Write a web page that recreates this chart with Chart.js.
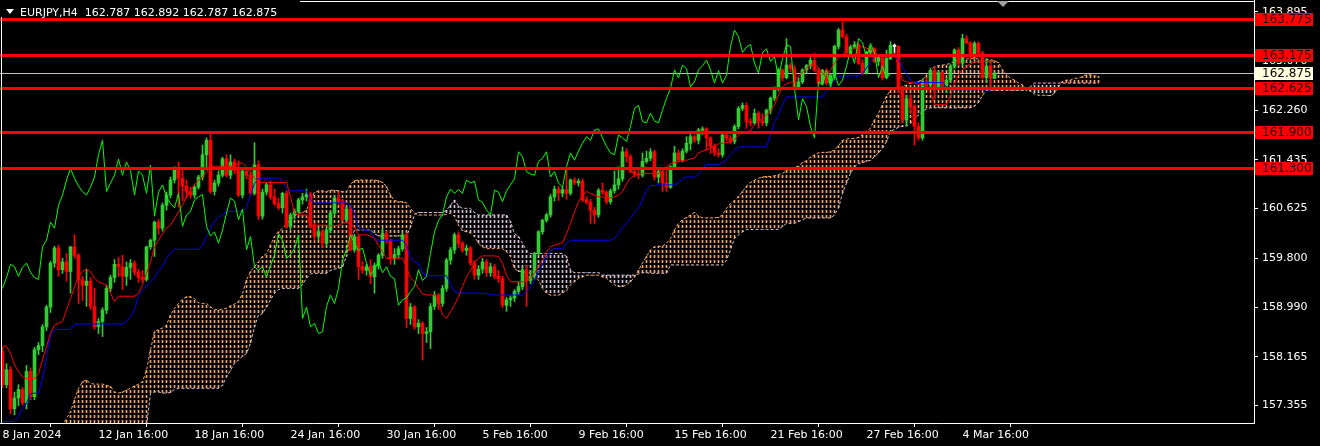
<!DOCTYPE html>
<html>
<head>
<meta charset="utf-8">
<title>EURJPY,H4</title>
<script src="https://cdn.jsdelivr.net/npm/chart.js@4.4.1/dist/chart.umd.min.js"></script>
<style>
  html, body { margin: 0; padding: 0; background: #000; }
  #chart { display: block; }
</style>
</head>
<body>
<canvas id="chart" width="1320" height="446"></canvas>
<script>
// EURJPY H4, one entry per bar from 8 Jan 2024 16:00
const symbol = "EURJPY,H4";
const lastQuote = ["162.787", "162.892", "162.787", "162.875"];

const tickBars = [0, 24, 48, 72, 96, 120, 144, 168, 192, 216, 240];
const tickLabels = ["8 Jan 2024", "12 Jan 16:00", "18 Jan 16:00", "24 Jan 16:00", "30 Jan 16:00",
  "5 Feb 16:00", "9 Feb 16:00", "15 Feb 16:00", "21 Feb 16:00", "27 Feb 16:00", "4 Mar 16:00"];

const priceTicks = [163.895, 163.070, 162.260, 161.435, 160.625, 159.800, 158.990, 158.165, 157.355];

const levels = [163.775, 163.175, 162.625, 161.900, 161.300];
const lastPrice = 162.875;

// [open, high, low, close]
const candles = [
  [158.25,158.32,157.65,157.70],[157.70,158.05,157.65,157.95],[157.95,158.00,157.22,157.30],[157.30,157.58,157.20,157.48],[157.48,157.70,157.35,157.62],
  [157.62,157.66,157.36,157.40],[157.40,158.02,157.30,157.92],[157.92,157.98,157.45,157.50],[157.50,158.32,157.45,158.28],[158.28,158.40,158.20,158.35],
  [158.35,158.70,158.25,158.66],[158.66,159.02,158.60,158.99],[158.99,159.75,158.90,159.72],[159.72,160.00,159.65,159.97],[159.97,160.02,159.50,159.61],
  [159.61,159.80,159.55,159.74],[159.74,159.88,159.42,159.58],[159.58,160.00,159.22,159.99],[159.99,160.19,159.80,159.85],[159.85,159.88,159.05,159.44],
  [159.44,159.50,159.10,159.35],[159.35,159.62,159.00,159.42],[159.42,159.48,158.95,159.00],[159.00,159.30,158.62,158.66],[158.66,158.80,158.55,158.75],
  [158.75,158.98,158.50,158.94],[158.94,159.35,158.88,159.30],[159.30,159.52,159.25,159.48],[159.48,159.78,159.40,159.70],[159.70,159.82,159.50,159.66],
  [159.66,159.85,159.28,159.50],[159.50,159.74,159.35,159.65],[159.65,159.78,159.45,159.72],[159.72,159.76,159.52,159.57],[159.57,159.62,159.40,159.48],
  [159.48,159.60,159.40,159.45],[159.45,160.00,159.42,159.99],[159.99,160.12,159.95,160.10],[160.10,160.42,159.83,160.40],[160.40,160.45,160.20,160.30],
  [160.30,160.72,160.25,160.68],[160.68,160.90,160.60,160.85],[160.85,161.15,160.80,161.10],[161.10,161.32,161.05,161.29],[161.29,161.40,160.65,161.13],
  [161.13,161.30,160.75,161.00],[161.00,161.10,160.80,160.91],[160.91,160.98,160.80,160.85],[160.85,161.02,160.80,160.98],[160.98,161.18,160.95,161.15],
  [161.15,161.68,161.10,161.52],[161.52,161.80,161.30,161.76],[161.76,161.88,160.88,160.91],[160.91,161.10,160.85,161.05],[161.05,161.25,161.00,161.18],
  [161.18,161.48,161.15,161.45],[161.45,161.52,161.15,161.18],[161.18,161.52,161.12,161.40],[161.40,161.45,161.20,161.26],[161.26,161.42,160.82,160.85],
  [160.85,161.30,160.80,161.25],[161.25,161.30,161.12,161.18],[161.18,161.25,160.85,160.88],[160.88,161.72,160.85,161.35],[161.35,161.42,160.44,160.50],
  [160.50,160.95,160.45,160.90],[160.90,161.05,160.85,161.02],[161.02,161.08,160.78,160.82],[160.82,160.95,160.68,160.71],[160.71,160.80,160.60,160.64],
  [160.64,160.90,160.55,160.88],[160.88,160.92,160.30,160.33],[160.33,160.55,160.28,160.52],[160.52,160.62,160.45,160.58],[160.58,160.80,160.55,160.77],
  [160.77,160.88,160.70,160.82],[160.82,160.95,160.75,160.86],[160.86,160.90,160.30,160.33],[160.33,160.38,160.10,160.17],[160.17,160.30,160.10,160.24],
  [160.24,160.28,159.98,160.05],[160.05,160.30,160.00,160.27],[160.27,160.58,160.22,160.55],[160.55,160.85,160.50,160.80],[160.80,160.90,160.70,160.75],
  [160.75,160.78,160.42,160.44],[160.44,160.66,160.40,160.62],[160.62,160.66,159.92,159.94],[159.94,160.20,159.90,160.16],[160.16,160.18,159.45,159.66],
  [159.66,159.75,159.55,159.60],[159.60,159.70,159.52,159.66],[159.66,159.78,159.38,159.49],[159.49,159.72,159.22,159.68],[159.68,159.88,159.62,159.85],
  [159.85,160.30,159.80,160.21],[160.21,160.25,160.05,160.10],[160.10,160.12,159.70,159.80],[159.80,159.96,159.70,159.86],[159.86,160.00,159.80,159.96],
  [159.96,160.22,159.92,160.19],[160.19,160.22,158.65,158.80],[158.80,159.05,158.70,158.99],[158.99,159.02,158.62,158.66],[158.66,158.78,158.55,158.72],
  [158.72,158.75,158.11,158.55],[158.55,158.65,158.40,158.58],[158.58,159.05,158.30,159.00],[159.00,159.25,158.95,159.19],[159.19,159.22,158.95,159.05],
  [159.05,159.35,159.00,159.30],[159.30,159.80,159.25,159.77],[159.77,159.98,159.70,159.94],[159.94,160.22,159.88,160.19],[160.19,160.24,159.98,160.05],
  [160.05,160.08,159.90,159.93],[159.93,160.02,159.85,159.97],[159.97,160.00,159.68,159.72],[159.72,159.76,159.45,159.52],[159.52,159.68,159.45,159.62],
  [159.62,159.80,159.55,159.74],[159.74,159.78,159.50,159.56],[159.56,159.72,159.50,159.66],[159.66,159.70,159.46,159.50],[159.50,159.60,159.40,159.46],
  [159.46,159.50,158.98,159.02],[159.02,159.15,158.92,159.11],[159.11,159.18,159.00,159.14],[159.14,159.28,159.08,159.25],[159.25,159.40,159.20,159.33],
  [159.33,159.65,159.28,159.61],[159.61,159.68,159.00,159.43],[159.43,159.60,159.38,159.50],[159.50,159.90,159.45,159.88],[159.88,160.26,159.85,160.24],
  [160.24,160.45,160.20,160.43],[160.43,160.55,160.40,160.52],[160.52,160.86,160.48,160.82],[160.82,161.00,160.75,160.95],[160.95,161.00,160.76,160.88],
  [160.88,160.98,160.82,160.94],[160.94,161.28,160.78,160.88],[160.88,161.12,160.85,161.10],[161.10,161.14,161.02,161.05],[161.05,161.12,161.00,161.08],
  [161.08,161.12,160.74,160.77],[160.77,160.82,160.70,160.73],[160.73,160.78,160.38,160.60],[160.60,160.65,160.38,160.52],[160.52,160.96,160.48,160.93],
  [160.93,161.05,160.86,160.90],[160.90,160.92,160.70,160.74],[160.74,160.95,160.70,160.92],[160.92,161.25,160.88,161.02],[161.02,161.32,160.95,161.12],
  [161.12,161.65,161.08,161.57],[161.57,161.62,161.40,161.49],[161.49,161.52,161.22,161.24],[161.24,161.30,161.15,161.20],[161.20,161.28,161.12,161.18],
  [161.18,161.55,161.15,161.41],[161.41,161.58,161.38,161.46],[161.46,161.62,161.42,161.57],[161.57,161.60,161.10,161.15],[161.15,161.30,161.05,161.24],
  [161.24,161.28,160.91,161.05],[161.05,161.27,160.91,160.98],[160.98,161.34,160.96,161.32],[161.32,161.66,161.28,161.55],[161.55,161.60,161.40,161.43],
  [161.43,161.62,161.40,161.58],[161.58,161.82,161.55,161.71],[161.71,161.87,161.60,161.82],[161.82,161.85,161.72,161.76],[161.76,161.96,161.70,161.93],
  [161.93,161.98,161.85,161.95],[161.95,161.97,161.60,161.80],[161.80,161.82,161.54,161.66],[161.66,161.70,161.50,161.55],[161.55,161.62,161.48,161.52],
  [161.52,161.90,161.48,161.85],[161.85,161.88,161.75,161.80],[161.80,161.84,161.70,161.74],[161.74,162.02,161.70,161.99],[161.99,162.32,161.95,162.29],
  [162.29,162.38,162.25,162.34],[162.34,162.38,161.96,162.07],[162.07,162.12,162.00,162.05],[162.05,162.28,162.02,162.21],[162.21,162.24,161.96,162.08],
  [162.08,162.20,162.00,162.05],[162.05,162.28,162.00,162.26],[162.26,162.48,162.20,162.46],[162.46,162.65,162.42,162.62],[162.62,162.96,162.58,162.93],
  [162.93,162.95,162.75,162.80],[162.80,163.45,162.78,163.01],[163.01,163.05,162.90,162.95],[162.95,163.00,162.62,162.65],[162.65,162.80,162.60,162.73],
  [162.73,162.95,162.70,162.93],[162.93,163.02,162.88,163.00],[163.00,163.18,162.95,163.09],[163.09,163.21,162.90,162.93],[162.93,162.96,162.68,162.71],
  [162.71,162.94,162.68,162.92],[162.92,162.95,162.68,162.71],[162.71,162.86,162.62,162.84],[162.84,163.34,162.76,163.32],[163.32,163.62,163.28,163.59],
  [163.59,163.73,163.46,163.48],[163.48,163.52,163.20,163.22],[163.22,163.34,163.18,163.31],[163.31,163.40,163.28,163.35],[163.35,163.38,163.02,163.04],
  [163.04,163.10,162.85,162.88],[162.88,163.24,162.86,163.22],[163.22,163.32,163.18,163.28],[163.28,163.30,163.05,163.07],[163.07,163.18,163.00,163.15],
  [163.15,163.16,162.76,162.80],[162.80,163.26,162.78,163.12],[163.12,163.40,163.10,163.34],[163.32,163.36,163.21,163.32],[163.32,163.33,162.55,162.62],
  [162.62,162.66,162.05,162.10],[162.10,162.50,162.00,162.45],[162.45,162.52,162.20,162.32],[162.32,162.35,161.68,161.99],[161.99,162.05,161.76,161.80],
  [161.80,162.78,161.76,162.73],[162.73,162.80,162.62,162.68],[162.68,162.96,162.64,162.92],[162.92,162.98,162.45,162.65],[162.65,162.92,162.62,162.88],
  [162.88,162.90,162.64,162.67],[162.67,162.80,162.55,162.76],[162.76,163.02,162.72,162.99],[162.99,163.28,162.95,163.26],[163.26,163.30,163.00,163.04],
  [163.04,163.52,163.00,163.45],[163.45,163.50,163.36,163.38],[163.38,163.40,163.10,163.14],[163.14,163.40,163.10,163.37],[163.37,163.40,163.18,163.21],
  [163.21,163.24,162.78,162.80],[162.80,163.12,162.72,162.99],[162.99,163.08,162.65,162.79],[162.787,162.892,162.787,162.875]
];

// Ichimoku lines
const tenkan = [
  158.34,158.34,158.22,158.03,157.92,157.83,157.80,157.80,157.80,157.89,
  158.11,158.33,158.55,158.69,158.72,158.75,158.94,159.13,159.33,159.49,
  159.58,159.62,159.58,159.47,159.41,159.38,159.36,159.22,159.08,159.17,
  159.17,159.17,159.17,159.17,159.22,159.36,159.55,159.74,159.99,160.10,
  160.21,160.30,160.35,160.46,160.57,160.68,160.82,160.93,161.02,161.10,
  161.15,161.24,161.32,161.33,161.33,161.33,161.33,161.33,161.33,161.38,
  161.38,161.32,161.24,161.13,161.06,161.06,161.06,161.06,161.06,161.06,
  161.06,161.06,160.82,160.55,160.52,160.52,160.52,160.35,160.35,160.35,
  160.35,160.35,160.34,160.34,160.35,160.38,160.39,160.38,160.32,160.19,
  160.19,160.19,160.17,160.13,160.02,159.91,159.80,159.80,159.80,159.80,
  159.80,159.66,159.47,159.41,159.30,159.21,159.19,159.19,159.19,159.11,
  158.86,158.80,158.91,159.02,159.16,159.33,159.49,159.60,159.72,159.80,
  159.84,159.84,159.84,159.84,159.83,159.72,159.52,159.41,159.41,159.41,
  159.41,159.41,159.47,159.55,159.66,159.77,159.91,159.99,160.02,160.04,
  160.06,160.21,160.38,160.57,160.74,160.85,160.91,160.88,160.85,160.82,
  160.82,160.80,160.80,160.82,160.85,160.91,161.04,161.13,161.18,161.20,
  161.21,161.21,161.21,161.21,161.21,161.30,161.32,161.37,161.39,161.41,
  161.42,161.43,161.45,161.46,161.55,161.58,161.60,161.63,161.66,161.70,
  161.71,161.72,161.73,161.77,161.85,161.89,161.90,161.92,162.02,162.08,
  162.11,162.18,162.26,162.35,162.51,162.65,162.70,162.72,162.76,162.82,
  162.89,162.96,163.01,163.04,162.96,162.87,162.83,162.93,163.04,163.14,
  163.19,163.22,163.25,163.29,163.32,163.31,163.29,163.27,163.23,163.16,
  163.15,163.16,163.19,163.21,162.98,162.76,162.73,162.72,162.71,162.69,
  162.68,162.66,162.54,162.36,162.35,162.35,162.36,162.49,162.71,162.85,
  162.94,162.98,163.03,163.06,163.07,163.07,163.07,163.07,163.07
];

const kijun = [
  157.09,157.09,157.09,157.09,157.17,157.31,157.39,157.55,157.56,157.56,
  157.80,158.17,158.52,158.61,158.62,158.62,158.62,158.62,158.71,158.71,
  158.71,158.71,158.71,158.71,158.71,158.71,158.71,158.71,158.71,158.71,
  158.71,158.75,158.83,158.94,159.17,159.27,159.34,159.41,159.47,159.60,
  159.66,159.80,159.89,159.95,159.95,159.95,159.95,159.95,159.95,159.95,
  160.02,160.16,160.30,160.41,160.48,160.52,160.58,160.58,160.58,160.58,
  160.58,160.65,160.85,161.04,161.13,161.13,161.13,161.13,161.13,161.13,
  161.07,160.96,160.92,160.92,160.92,160.92,160.92,160.77,160.72,160.72,
  160.72,160.72,160.72,160.72,160.72,160.72,160.72,160.68,160.55,160.30,
  160.27,160.27,160.24,160.13,160.10,160.10,160.10,160.10,160.10,160.10,
  160.10,160.02,159.80,159.74,159.72,159.55,159.51,159.51,159.51,159.51,
  159.51,159.51,159.36,159.25,159.22,159.22,159.22,159.22,159.22,159.22,
  159.22,159.22,159.19,159.19,159.19,159.19,159.19,159.19,159.19,159.19,
  159.19,159.25,159.33,159.44,159.58,159.69,159.83,159.94,159.96,159.96,
  159.96,160.05,160.10,160.10,160.10,160.10,160.10,160.10,160.10,160.10,
  160.10,160.10,160.10,160.13,160.21,160.32,160.38,160.46,160.56,160.63,
  160.77,160.93,161.01,161.01,161.02,161.02,161.02,161.02,161.02,161.05,
  161.13,161.15,161.15,161.15,161.19,161.30,161.36,161.36,161.36,161.36,
  161.39,161.43,161.52,161.60,161.65,161.65,161.65,161.65,161.65,161.65,
  161.65,161.65,161.85,162.07,162.17,162.35,162.48,162.48,162.48,162.48,
  162.48,162.48,162.48,162.48,162.48,162.48,162.57,162.68,162.76,162.83,
  162.83,162.83,162.83,162.83,162.83,162.87,162.96,163.07,163.15,163.15,
  163.15,163.15,163.15,163.15,163.10,162.98,162.87,162.76,162.72,162.72,
  162.72,162.72,162.72,162.72,162.72,162.72,162.65,162.60,162.60,162.60,
  162.60,162.60,162.60,162.60,162.60,162.60,162.60,162.60,162.60
];

// cloud edges, drawn 26 bars ahead of price
const spanA = [
  156.90,156.90,156.90,156.90,156.90,156.90,156.90,156.90,156.90,156.90,
  156.92,156.94,156.96,156.98,157.00,157.03,157.14,157.25,157.45,157.64,
  157.75,157.78,157.72,157.71,157.71,157.71,157.69,157.67,157.58,157.56,
  157.58,157.61,157.64,157.68,157.71,157.75,157.94,158.28,158.58,158.62,
  158.64,158.69,158.86,158.97,159.05,159.12,159.16,159.16,159.13,159.06,
  159.05,159.05,158.99,158.95,158.94,158.96,158.97,159.01,159.04,159.08,
  159.22,159.44,159.58,159.66,159.74,159.83,159.88,160.02,160.16,160.24,
  160.30,160.37,160.44,160.50,160.55,160.56,160.60,160.77,160.89,160.92,
  160.92,160.91,160.93,160.93,160.92,160.91,160.91,161.03,161.09,161.10,
  161.10,161.10,161.10,161.10,161.09,161.06,160.99,160.85,160.76,160.74,
  160.74,160.72,160.63,160.55,160.52,160.52,160.52,160.52,160.52,160.52,
  160.52,160.53,160.55,160.50,160.35,160.26,160.24,160.22,160.16,160.05,
  159.99,159.96,159.96,159.96,159.96,159.96,159.91,159.83,159.63,159.58,
  159.58,159.56,159.55,159.49,159.44,159.30,159.22,159.19,159.19,159.19,
  159.22,159.27,159.36,159.41,159.47,159.49,159.52,159.52,159.52,159.52,
  159.49,159.47,159.41,159.36,159.33,159.33,159.36,159.41,159.49,159.60,
  159.72,159.83,159.94,159.99,160.00,160.00,160.05,160.13,160.27,160.38,
  160.44,160.48,160.52,160.56,160.50,160.47,160.47,160.47,160.47,160.48,
  160.52,160.63,160.71,160.76,160.83,160.91,161.00,161.06,161.10,161.13,
  161.15,161.16,161.16,161.17,161.19,161.21,161.26,161.28,161.31,161.33,
  161.39,161.42,161.48,161.52,161.55,161.56,161.56,161.57,161.60,161.67,
  161.76,161.78,161.79,161.79,161.81,161.85,161.91,161.96,162.10,162.21,
  162.35,162.49,162.59,162.62,162.62,162.65,162.68,162.71,162.72,162.74,
  162.76,162.85,162.93,162.98,163.00,163.01,163.02,163.04,163.07,163.10,
  163.11,163.11,163.12,163.12,163.11,163.10,163.10,163.10,163.08,163.05,
  162.93,162.85,162.79,162.76,162.71,162.68,162.62,162.57,162.53,162.51,
  162.51,162.51,162.50,162.54,162.65,162.74,162.76,162.76,162.79,162.79,
  162.82,162.85,162.85,162.83,162.82
];

const spanB = [
  156.70,156.70,156.70,156.70,156.70,156.70,156.70,156.70,156.70,156.70,
  156.70,156.70,156.70,156.70,156.70,156.70,157.00,157.00,157.00,157.00,
  157.00,157.00,157.00,157.00,157.00,157.00,157.00,157.00,157.00,157.00,
  157.00,157.00,157.00,157.00,157.00,157.00,157.00,157.56,157.58,157.58,
  157.56,157.56,157.57,157.62,157.64,157.64,157.64,157.64,157.64,157.64,
  157.64,157.64,157.64,157.64,157.64,157.69,157.83,157.94,158.06,158.11,
  158.17,158.22,158.39,158.66,158.86,158.88,158.99,159.11,159.22,159.28,
  159.30,159.30,159.30,159.30,159.30,159.36,159.47,159.54,159.55,159.55,
  159.55,159.55,159.60,159.62,159.63,159.66,159.83,160.10,160.27,160.27,
  160.27,160.27,160.27,160.21,160.17,160.17,160.17,160.17,160.17,160.17,
  160.17,160.17,160.32,160.53,160.56,160.56,160.56,160.56,160.56,160.56,
  160.56,160.60,160.68,160.77,160.67,160.63,160.63,160.63,160.56,160.52,
  160.52,160.52,160.52,160.52,160.52,160.52,160.52,160.41,160.21,160.16,
  160.05,159.93,159.88,159.88,159.88,159.88,159.88,159.88,159.88,159.88,
  159.88,159.83,159.60,159.56,159.56,159.56,159.56,159.56,159.56,159.56,
  159.52,159.52,159.52,159.52,159.52,159.52,159.52,159.52,159.52,159.54,
  159.56,159.56,159.55,159.55,159.55,159.55,159.55,159.69,159.69,159.69,
  159.69,159.69,159.69,159.69,159.69,159.69,159.69,159.69,159.69,159.69,
  159.69,159.77,159.94,160.13,160.19,160.24,160.28,160.28,160.28,160.28,
  160.28,160.28,160.28,160.28,160.28,160.33,160.38,160.38,160.38,160.41,
  160.44,160.47,160.47,160.47,160.47,160.47,160.47,160.47,160.52,160.63,
  160.88,161.05,161.21,161.32,161.37,161.39,161.41,161.43,161.49,161.55,
  161.63,161.74,161.91,161.94,161.98,161.99,162.00,162.04,162.13,162.18,
  162.24,162.28,162.30,162.30,162.30,162.30,162.30,162.30,162.30,162.30,
  162.30,162.30,162.30,162.33,162.39,162.51,162.59,162.59,162.59,162.59,
  162.59,162.59,162.59,162.59,162.59,162.59,162.59,162.65,162.71,162.71,
  162.71,162.71,162.71,162.71,162.71,162.71,162.71,162.71,162.71,162.71,
  162.71,162.71,162.71,162.71,162.71
];

const canvas = document.getElementById("chart");
const ctx = canvas.getContext("2d");

Chart.defaults.font.family = "'DejaVu Sans', sans-serif";
Chart.defaults.font.size = 11;

// dotted hatch used to fill the cloud, one dotted column per bar
function hatch(color) {
  const tile = document.createElement("canvas");
  tile.width = 1;
  tile.height = 5;
  const t = tile.getContext("2d");
  t.fillStyle = color;
  t.fillRect(0, 0, 1, 3);
  return ctx.createPattern(tile, "repeat");
}
const sandyHatch = hatch("#f4a460");
const thistleHatch = hatch("#d8bfd8");

const bull = "#32cd32", bear = "#ff0000";
const candleColor = c => c[3] > c[0] ? bull : (c[3] < c[0] ? bear : "#ffffff");
const pts = arr => arr.map((v, i) => ({ x: i, y: v }));
const chikou = candles.slice(26).map((c, i) => ({ x: i, y: c[3] }));

const lineDs = (data, color, order, dash) => ({
  type: "line", data, borderColor: color, borderWidth: 1, borderDash: dash || [],
  pointRadius: 0, tension: 0, clip: 0, order
});

// keep the plot area flush with the canvas edges
const noPad = s => { s.paddingTop = 0; s.paddingBottom = 0; s.paddingLeft = 0; s.paddingRight = 0; };

const overlay = {
  id: "overlay",
  beforeDraw(chart) {
    const c = chart.ctx;
    c.save();
    c.fillStyle = "#000";
    c.fillRect(0, 0, chart.width, chart.height);
    c.restore();
  },
  beforeDatasetsDraw(chart) {
    const { ctx: c, chartArea: a, scales: { y } } = chart;
    const py = Math.round(y.getPixelForValue(lastPrice));
    c.save();
    c.fillStyle = "#c0c0c0";
    c.fillRect(a.left, py, a.right - a.left, 1);
    c.restore();
  },
  afterDatasetsDraw(chart) {
    const { ctx: c, chartArea: a, scales: { y } } = chart;
    c.save();
    c.fillStyle = "#ff0000";
    levels.forEach(v => {
      const py = Math.round(y.getPixelForValue(v));
      c.fillRect(a.left, py - 1, a.right - a.left, 3);
    });
    c.restore();
  },
  afterDraw(chart) {
    const { ctx: c, chartArea: a, scales: { y } } = chart;
    c.save();
    // left and top edges of the frame
    c.fillStyle = "#ffffff";
    c.fillRect(1, 0, 1, a.bottom);
    c.fillRect(0, 1, a.right, 1);

    // price boxes on the axis
    c.font = "12px 'DejaVu Sans', sans-serif";
    c.textAlign = "left";
    c.textBaseline = "middle";
    const box = (v, bg, fg) => {
      const py = Math.round(y.getPixelForValue(v));
      c.fillStyle = bg;
      c.fillRect(a.right + 1, py - 6, 58, 13);
      c.fillStyle = fg;
      c.fillText(v.toFixed(3), a.right + 8, py + 1);
    };
    levels.forEach(v => box(v, "#ff0000", "#200000"));
    box(lastPrice, "#ffffe0", "#000000");

    // header
    c.fillStyle = "#000";
    c.fillRect(0, 0, 300, 17);
    c.fillStyle = "#ffffff";
    c.beginPath();
    c.moveTo(6, 9); c.lineTo(14, 9); c.lineTo(10, 14);
    c.closePath();
    c.fill();
    c.font = "11px 'DejaVu Sans', sans-serif";
    c.textBaseline = "alphabetic";
    c.fillText(symbol + "  " + lastQuote.join(" "), 20, 16);

    // chart shift marker
    c.fillStyle = "#a0a0a0";
    c.beginPath();
    c.moveTo(997, 1); c.lineTo(1009, 1); c.lineTo(1003, 7);
    c.closePath();
    c.fill();
    c.restore();
  }
};

new Chart(ctx, {
  type: "bar",
  data: {
    datasets: [
      {
        type: "bar",
        data: spanA.map((a, i) => ({ x: i, y: [a, spanB[i]] })),
        backgroundColor: spanA.map((a, i) => a >= spanB[i] ? sandyHatch : thistleHatch),
        barThickness: 1, grouped: false, clip: 0, order: 10
      },
      lineDs(pts(spanA), "#f4a460", 9, [3, 2]),
      lineDs(pts(spanB), "#d8bfd8", 9, [3, 2]),
      {
        type: "bar",
        data: candles.map((c, i) => ({ x: i, y: [c[2], c[1]] })),
        backgroundColor: candles.map(candleColor),
        barThickness: 1, grouped: false, clip: 0, order: 6
      },
      {
        type: "bar",
        data: candles.map((c, i) => ({ x: i, y: [c[0], c[3]] })),
        backgroundColor: candles.map(candleColor),
        barThickness: 3, minBarLength: 1, grouped: false, clip: 0, order: 5
      },
      lineDs(pts(kijun), "#0000ff", 3),
      lineDs(pts(tenkan), "#ff0000", 2),
      lineDs(chikou, "#00ff00", 1)
    ]
  },
  options: {
    responsive: false,
    animation: false,
    events: [],
    devicePixelRatio: 1,
    layout: { padding: 0, autoPadding: false },
    plugins: { legend: { display: false }, tooltip: { enabled: false } },
    scales: {
      x: {
        type: "linear",
        min: -0.625,
        max: 312.875,
        offset: false,
        afterBuildTicks: s => { s.ticks = tickBars.map(v => ({ value: v })); },
        afterFit: s => { s.height = 23; noPad(s); },
        ticks: {
          align: "start", color: "#ffffff", padding: 2, autoSkip: false, maxRotation: 0,
          callback: v => tickLabels[tickBars.indexOf(v)] || ""
        },
        grid: { drawOnChartArea: false, color: "#ffffff", tickLength: 4 },
        border: { color: "#ffffff" }
      },
      y: {
        position: "right",
        min: 157.064,
        max: 164.0906,
        afterBuildTicks: s => { s.ticks = priceTicks.map(v => ({ value: v })); },
        afterFit: s => { s.width = 66; noPad(s); },
        ticks: { color: "#ffffff", padding: 4, callback: v => v.toFixed(3) },
        grid: { drawOnChartArea: false, color: "#ffffff", tickLength: 4 },
        border: { color: "#ffffff" }
      }
    }
  },
  plugins: [overlay]
});
</script>
</body>
</html>
